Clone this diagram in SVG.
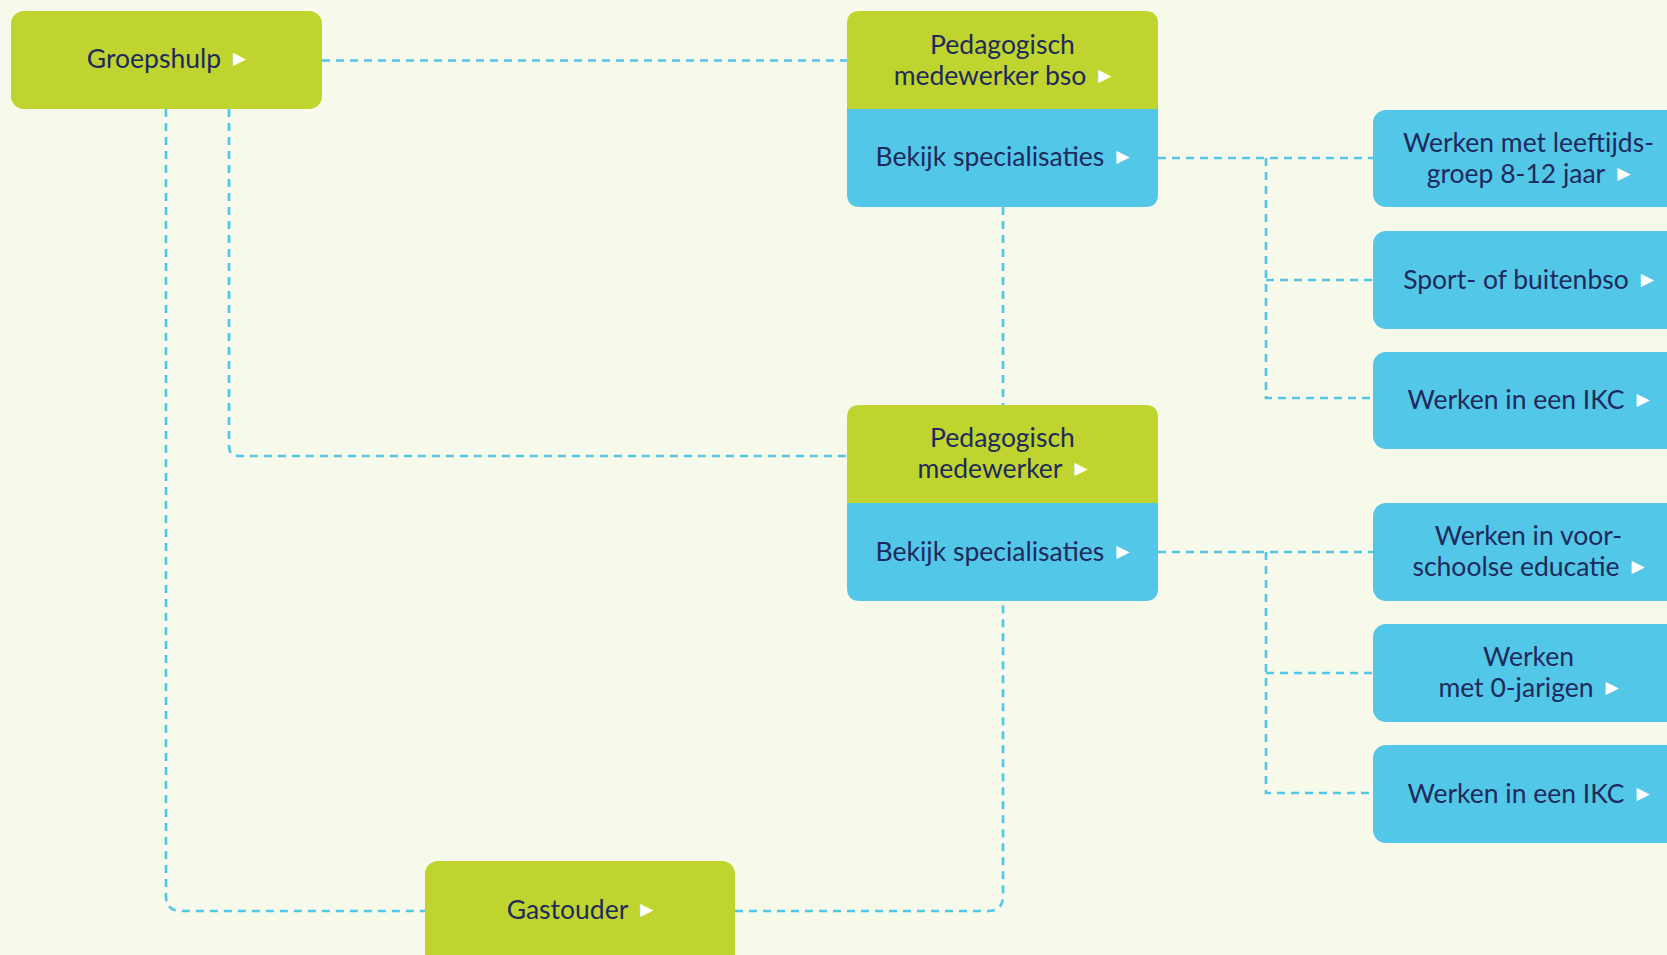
<svg xmlns="http://www.w3.org/2000/svg" width="1667" height="955" viewBox="0 0 1667 955">
<style>
.g{fill:#c0d42f}
.b{fill:#52c7e8}
.t{font-family:Lato,"Liberation Sans",sans-serif;font-size:26.5px;font-weight:400;fill:#1f2a5c;text-anchor:middle}
.a{font-family:"DejaVu Sans",sans-serif;font-size:17px;font-weight:400;fill:#ffffff}
.c{fill:none;stroke:#52c7e8;stroke-width:2.7;stroke-dasharray:8 6}
</style>
<rect width="1667" height="955" fill="#f7f9eb"/>
<g id="connectors">
<path class="c" d="M322 60.5H847"/>
<path class="c" d="M229 109V446Q229 456 239 456H847"/>
<path class="c" d="M166 109V896Q166 911 181 911H425"/>
<path class="c" d="M735 911H988Q1003 911 1003 896V601"/>
<path class="c" d="M1003 207V405"/>
<path class="c" d="M1158 158H1373M1266 158V398H1373M1266 280H1373"/>
<path class="c" d="M1158 552H1373M1266 552V793H1373M1266 673H1373"/>
</g>
<g id="groepshulp">
<rect class="g" x="11" y="11" width="311" height="98" rx="13"/>
<text class="t" x="166.5" y="68">Groepshulp<tspan class="a" dx="12" dy="-4">▶</tspan></text>
</g>
<g id="ped-bso">
<path class="b" d="M847 100H1158V194Q1158 207 1145 207H860Q847 207 847 194Z"/>
<path class="g" d="M860 11H1145Q1158 11 1158 24V109H847V24Q847 11 860 11Z"/>
<text class="t" x="1002.5" y="54">Pedagogisch</text>
<text class="t" x="1002.5" y="85">medewerker bso<tspan class="a" dx="12" dy="-4">▶</tspan></text>
<text class="t" x="1002.5" y="166">Bekijk specialisaties<tspan class="a" dx="12" dy="-4">▶</tspan></text>
</g>
<g id="ped">
<path class="b" d="M847 495H1158V588Q1158 601 1145 601H860Q847 601 847 588Z"/>
<path class="g" d="M860 405H1145Q1158 405 1158 418V503H847V418Q847 405 860 405Z"/>
<text class="t" x="1002.5" y="447">Pedagogisch</text>
<text class="t" x="1002.5" y="478">medewerker<tspan class="a" dx="12" dy="-4">▶</tspan></text>
<text class="t" x="1002.5" y="561">Bekijk specialisaties<tspan class="a" dx="12" dy="-4">▶</tspan></text>
</g>
<g id="gastouder">
<rect class="g" x="425" y="861" width="310" height="120" rx="13"/>
<text class="t" x="580" y="919">Gastouder<tspan class="a" dx="12" dy="-4">▶</tspan></text>
</g>
<g id="spec-leeftijd">
<rect class="b" x="1373" y="110" width="311" height="97" rx="13"/>
<text class="t" x="1528.5" y="152">Werken met leeftijds-</text>
<text class="t" x="1528.5" y="183">groep 8-12 jaar<tspan class="a" dx="12" dy="-4">▶</tspan></text>
</g>
<g id="spec-sport">
<rect class="b" x="1373" y="231" width="311" height="98" rx="13"/>
<text class="t" x="1528.5" y="289">Sport- of buitenbso<tspan class="a" dx="12" dy="-4">▶</tspan></text>
</g>
<g id="spec-ikc1">
<rect class="b" x="1373" y="352" width="311" height="97" rx="13"/>
<text class="t" x="1528.5" y="409">Werken in een IKC<tspan class="a" dx="12" dy="-4">▶</tspan></text>
</g>
<g id="spec-vve">
<rect class="b" x="1373" y="503" width="311" height="98" rx="13"/>
<text class="t" x="1528.5" y="545">Werken in voor-</text>
<text class="t" x="1528.5" y="576">schoolse educatie<tspan class="a" dx="12" dy="-4">▶</tspan></text>
</g>
<g id="spec-0jarigen">
<rect class="b" x="1373" y="624" width="311" height="98" rx="13"/>
<text class="t" x="1528.5" y="666">Werken</text>
<text class="t" x="1528.5" y="697">met 0-jarigen<tspan class="a" dx="12" dy="-4">▶</tspan></text>
</g>
<g id="spec-ikc2">
<rect class="b" x="1373" y="745" width="311" height="98" rx="13"/>
<text class="t" x="1528.5" y="803">Werken in een IKC<tspan class="a" dx="12" dy="-4">▶</tspan></text>
</g>
</svg>
